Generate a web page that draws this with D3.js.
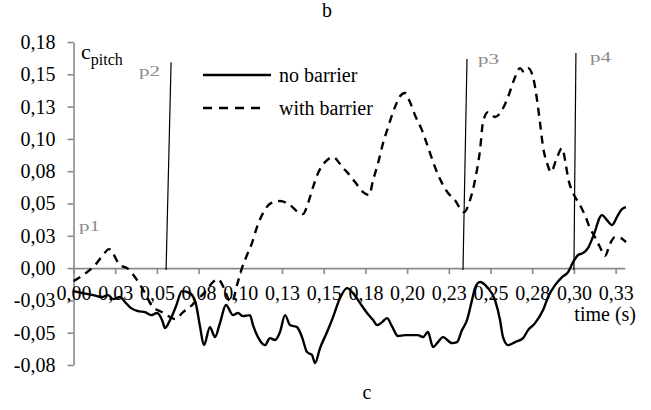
<!DOCTYPE html>
<html>
<head>
<meta charset="utf-8">
<script src="https://cdn.jsdelivr.net/npm/d3@7"></script>
<style>
	body { margin: 0; background: #fff; }
</style>
</head>
<body>
<div id="main_node"></div>
<script>
let width = 651;
let height = 410;
let serif = "'Liberation Serif'";

// time (s), c_pitch
let noBarrier = [
	[0, -0.0178], [0.0057, -0.0194], [0.0117, -0.0209], [0.0171, -0.0224], [0.0207, -0.0209],
	[0.0237, -0.024], [0.0279, -0.0224], [0.0309, -0.0263], [0.0345, -0.031], [0.0387, -0.0333],
	[0.0429, -0.0341], [0.0465, -0.0364], [0.0501, -0.0348], [0.0531, -0.0402], [0.0549, -0.0464],
	[0.0579, -0.0402], [0.0615, -0.0294], [0.065, -0.0178], [0.0698, -0.0194], [0.0734, -0.0279],
	[0.0758, -0.0449], [0.0782, -0.0596], [0.0818, -0.0457], [0.0848, -0.0534], [0.0878, -0.0426],
	[0.0914, -0.0286], [0.0956, -0.0364], [0.0986, -0.0348], [0.1016, -0.0372], [0.1058, -0.0364],
	[0.1076, -0.0441], [0.1106, -0.0534], [0.1148, -0.0596], [0.1178, -0.0542], [0.1208, -0.0557],
	[0.1238, -0.0495], [0.1268, -0.0364], [0.1298, -0.0441], [0.134, -0.0457], [0.137, -0.0534],
	[0.14, -0.065], [0.143, -0.0673], [0.1448, -0.0735], [0.1478, -0.0619], [0.152, -0.0495],
	[0.1556, -0.0379], [0.1598, -0.0232], [0.164, -0.0155], [0.1676, -0.0194], [0.1718, -0.0271],
	[0.176, -0.0348], [0.1796, -0.0402], [0.182, -0.0441], [0.185, -0.0418], [0.1879, -0.0387],
	[0.1909, -0.0449], [0.1945, -0.0526], [0.1987, -0.0519], [0.2029, -0.0519], [0.2065, -0.0519],
	[0.2095, -0.0534], [0.2125, -0.0495], [0.2155, -0.0611], [0.2185, -0.0573], [0.2215, -0.0534],
	[0.2269, -0.0581], [0.2299, -0.0573], [0.2329, -0.048], [0.2359, -0.0402], [0.2389, -0.0248],
	[0.2407, -0.0155], [0.2437, -0.0108], [0.2479, -0.0147], [0.2527, -0.0248], [0.2557, -0.0402],
	[0.2575, -0.0534], [0.2605, -0.0596], [0.2647, -0.0573], [0.2695, -0.0542], [0.2725, -0.048],
	[0.2767, -0.0426], [0.2815, -0.0325], [0.2845, -0.0224], [0.2887, -0.0132], [0.2929, -0.007],
	[0.2965, -0.0031], [0.2995, 0.0046], [0.3025, 0.0101], [0.3054, 0.0116], [0.3084, 0.0155],
	[0.3114, 0.024], [0.3168, 0.041], [0.3198, 0.0372], [0.3228, 0.0333], [0.3264, 0.041],
	[0.3288, 0.0457], [0.3312, 0.0472]
];

let withBarrier = [
	[0, -0.0101], [0.0057, -0.0054], [0.0129, 0.0023], [0.0177, 0.0101], [0.0213, 0.0147],
	[0.0279, 0.0023], [0.0321, 0], [0.0381, -0.0093], [0.0429, -0.0194], [0.0471, -0.0294],
	[0.0531, -0.0341], [0.0579, -0.0379], [0.0609, -0.0395], [0.0657, -0.0341], [0.0711, -0.0286],
	[0.0747, -0.024], [0.0788, -0.0186], [0.0836, -0.0108], [0.0866, -0.0085], [0.0902, -0.0155],
	[0.0932, -0.0248], [0.095, -0.0263], [0.098, -0.0132], [0.101, 0], [0.104, 0.0101],
	[0.107, 0.0194], [0.11, 0.0317], [0.1136, 0.0426], [0.1184, 0.0503], [0.1238, 0.0519],
	[0.1298, 0.0488], [0.1346, 0.0433], [0.1376, 0.0418], [0.1406, 0.0503], [0.1436, 0.0627],
	[0.1466, 0.0735], [0.1508, 0.082], [0.1556, 0.0859], [0.1616, 0.0774], [0.164, 0.0743],
	[0.1688, 0.0666], [0.1736, 0.0588], [0.1772, 0.0565], [0.1796, 0.0681], [0.1826, 0.0813],
	[0.1856, 0.0968], [0.1886, 0.1091], [0.1927, 0.1246], [0.1963, 0.1339], [0.1987, 0.1355],
	[0.2017, 0.1285], [0.2047, 0.1184], [0.2089, 0.1068], [0.2125, 0.0937], [0.2167, 0.0782],
	[0.2209, 0.0658], [0.2245, 0.0581], [0.2287, 0.0526], [0.2317, 0.0464], [0.2341, 0.0433],
	[0.2377, 0.0526], [0.2413, 0.072], [0.2437, 0.0913], [0.2455, 0.113], [0.2485, 0.1207],
	[0.2527, 0.1169], [0.2569, 0.1223], [0.2605, 0.1324], [0.2647, 0.1478], [0.2677, 0.1548],
	[0.2701, 0.1517], [0.2725, 0.1548], [0.2755, 0.1478], [0.2779, 0.13], [0.2797, 0.1122],
	[0.2815, 0.0937], [0.2839, 0.0813], [0.2863, 0.0743], [0.2893, 0.0836], [0.2929, 0.0929],
	[0.2947, 0.0836], [0.2965, 0.0697], [0.2995, 0.0581], [0.3036, 0.0488], [0.3066, 0.041],
	[0.3096, 0.031], [0.3126, 0.024], [0.3156, 0.0163], [0.3186, 0.0093], [0.3216, 0.0186],
	[0.3246, 0.024], [0.3282, 0.0232], [0.3312, 0.0201]
];

let seriesNames = ["no barrier", "with barrier"];
let xTicks = [0, 0.025, 0.05, 0.075, 0.1, 0.125, 0.15, 0.175, 0.2, 0.225, 0.25, 0.275, 0.3, 0.325];
let yTicks = [-0.075, -0.05, -0.025, 0, 0.025, 0.05, 0.075, 0.1, 0.125, 0.15, 0.175];

// phase markers p1..p4 (p1 has no line): label position and line ends, in data units
let markers = [
	{ name: "p1", lx: 0.0033, ly: 0.0286, line: null },
	{ name: "p2", lx: 0.0393, ly: 0.149, line: [[0.0555, -0.0015], [0.0585, 0.1594]] },
	{ name: "p3", lx: 0.2425, ly: 0.158, line: [[0.2335, -0.0015], [0.2359, 0.1618]] },
	{ name: "p4", lx: 0.3096, ly: 0.1594, line: [[0.3, -0.0015], [0.3012, 0.1664]] }
];

let x = d3.scaleLinear().domain([0, 0.3305]).range([73.5, 624.8]);
let y = d3.scaleLinear().domain([-0.075, 0.175]).range([365, 42]);

// excel style: two decimals, half away from zero, comma separator
let fmt = function (d) {
	let v = Math.sign(d) * Math.round(Math.abs(d) * 100 + 1e-6) / 100;
	return (v < 0 ? "-" : "") + Math.abs(v).toFixed(2).replace(".", ",");
};

let svg = d3.select("#main_node")
	.append("svg")
	.attr("width", width)
	.attr("height", height)
	.style("font-family", serif);

// axes
let yAxis = svg.append("g")
	.attr("transform", "translate(" + x(0) + ",0)")
	.call(d3.axisLeft(y).tickValues(yTicks).tickFormat(fmt).tickSize(6).tickPadding(12).tickSizeOuter(0));

let xAxis = svg.append("g")
	.attr("transform", "translate(0," + y(0) + ")")
	.call(d3.axisBottom(x).tickValues(xTicks).tickFormat(fmt).tickSize(6).tickPadding(12).tickSizeOuter(0));

[xAxis, yAxis].forEach(function (g) {
	g.attr("font-family", null).attr("font-size", null);
	g.select(".domain").attr("stroke", "#8a8a8a").attr("stroke-width", 1.6);
	g.selectAll(".tick line").attr("stroke", "#8a8a8a").attr("stroke-width", 1.6);
	g.selectAll(".tick text")
		.attr("fill", "#000")
		.style("font-family", serif)
		.style("font-size", "20px");
});

// series
let line = d3.line()
	.x(function (d) { return x(d[0]); })
	.y(function (d) { return y(d[1]); })
	.curve(d3.curveMonotoneX);

svg.append("path")
	.datum(noBarrier)
	.attr("d", line)
	.attr("fill", "none")
	.attr("stroke", "#000")
	.attr("stroke-width", 2.4);

svg.append("path")
	.datum(withBarrier)
	.attr("d", line)
	.attr("fill", "none")
	.attr("stroke", "#000")
	.attr("stroke-width", 2.4)
	.attr("stroke-dasharray", "8,6");

// marker lines and labels
let mk = svg.append("g");
mk.selectAll("line")
	.data(markers.filter(function (d) { return d.line; }))
	.enter()
	.append("line")
	.attr("x1", function (d) { return x(d.line[0][0]); })
	.attr("y1", function (d) { return y(d.line[0][1]); })
	.attr("x2", function (d) { return x(d.line[1][0]); })
	.attr("y2", function (d) { return y(d.line[1][1]); })
	.attr("stroke", "#000")
	.attr("stroke-width", 1.2);

mk.selectAll("text")
	.data(markers)
	.enter()
	.append("text")
	.attr("x", function (d) { return x(d.lx); })
	.attr("y", function (d) { return y(d.ly); })
	.attr("textLength", 21)
	.attr("lengthAdjust", "spacingAndGlyphs")
	.style("font-family", serif)
	.style("font-size", "15px")
	.style("fill", "#8c8c8c")
	.text(function (d) { return d.name; });

// legend
let legend = svg.append("g").attr("transform", "translate(203,75)");
let items = legend.selectAll("g")
	.data(seriesNames)
	.enter()
	.append("g")
	.attr("transform", function (d, i) { return "translate(0," + i * 33 + ")"; });

items.append("line")
	.attr("x1", 0)
	.attr("x2", function (d, i) { return i ? 64 : 68; })
	.attr("stroke", "#000")
	.attr("stroke-width", 2.4)
	.attr("stroke-dasharray", function (d, i) { return i ? "9,7" : null; });

items.append("text")
	.attr("x", 76)
	.attr("y", 7)
	.style("font-family", serif)
	.style("font-size", "20px")
	.text(function (d) { return d; });

// axis titles and panel letters
let yTitle = svg.append("text").attr("x", 81).attr("y", 59)
	.style("font-family", serif).style("font-size", "22px");
yTitle.append("tspan").text("c");
yTitle.append("tspan").attr("dy", 6).style("font-size", "16px").text("pitch");

svg.append("text")
	.attr("x", 636)
	.attr("y", 321)
	.attr("text-anchor", "end")
	.style("font-family", serif)
	.style("font-size", "20px")
	.text("time (s)");

svg.append("text").attr("x", 327).attr("y", 17).attr("text-anchor", "middle")
	.style("font-family", serif).style("font-size", "20px").text("b");
svg.append("text").attr("x", 367).attr("y", 399).attr("text-anchor", "middle")
	.style("font-family", serif).style("font-size", "20px").text("c");
</script>
</body>
</html>
